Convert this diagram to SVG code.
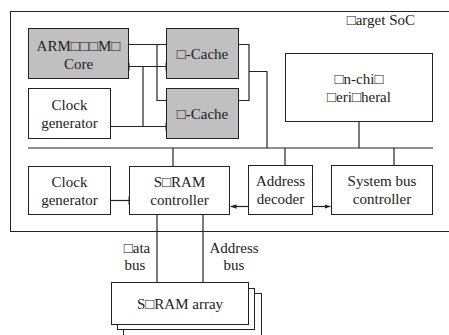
<svg xmlns="http://www.w3.org/2000/svg" width="449" height="335" viewBox="0 0 449 335">
  <style>
    .box { fill: #ffffff; stroke: #222222; stroke-width: 1; }
    .gray { fill: #c0c0c0; stroke: #222222; stroke-width: 1; }
    .wire { fill: none; stroke: #222222; stroke-width: 1.2; }
    .clk { fill: #ffffff; stroke: #222222; stroke-width: 1; }
    text { font-family: 'Liberation Serif', 'Times New Roman', Times, serif; font-size: 15px; fill: #222222; text-anchor: middle; }
  </style>
  <defs>
    <marker id="arrow" viewBox="0 0 6 6" refX="6" refY="3" markerWidth="6" markerHeight="6" markerUnits="userSpaceOnUse" orient="auto">
      <path d="M0,0.8 L6,3 L0,5.2 z" fill="#222222"/>
    </marker>
  </defs>

  <rect width="449" height="335" fill="#ffffff"/>

  <!-- SoC boundary (right edge runs past the canvas) -->
  <g id="soc">
    <rect x="10.5" y="11.5" width="445" height="220" fill="none" stroke="#222222" stroke-width="1"/>
    <text x="415" y="25" style="text-anchor:end">□arget SoC</text>
  </g>

  <!-- connectors -->
  <g id="connectors">
    <!-- core to caches -->
    <polyline class="wire" points="129,44.5 166,44.5"/>
    <polyline class="wire" points="157,44.5 157,100.5 166,100.5"/>
    <!-- clock to core and caches -->
    <polyline class="wire" points="111,126.5 166,126.5"/>
    <polyline class="wire" points="143,126.5 143,66.5"/>
    <polyline class="wire" points="129,66.5 166,66.5"/>
    <!-- caches to system bus -->
    <polyline class="wire" points="239,44.5 249,44.5 249,100.5 239,100.5"/>
    <polyline class="wire" points="249,71.5 267,71.5 267,148"/>
    <!-- system bus -->
    <line class="wire" x1="28" y1="148" x2="433" y2="148"/>
    <line class="wire" x1="359" y1="122" x2="359" y2="148"/>
    <line class="wire" x1="173" y1="148" x2="173" y2="166"/>
    <line class="wire" x1="285" y1="148" x2="285" y2="165"/>
    <line class="wire" x1="394" y1="148" x2="394" y2="165"/>
    <!-- lower row -->
    <line class="wire" x1="111" y1="200.5" x2="129" y2="200.5"/>
    <line class="wire" x1="248" y1="206.5" x2="230.5" y2="206.5" marker-end="url(#arrow)"/>
    <line class="wire" x1="313" y1="206.5" x2="330.5" y2="206.5" marker-end="url(#arrow)"/>
    <!-- memory buses -->
    <line class="wire" x1="157" y1="214" x2="157" y2="282"/>
    <line class="wire" x1="203" y1="214" x2="203" y2="282"/>
    <!-- clock inputs -->
    <polygon class="clk" points="129,62.5 120,66.5 129,70.5"/>
    <polygon class="clk" points="166,62.5 175.5,66.5 166,70.5"/>
    <polygon class="clk" points="166,122.5 175.5,126.5 166,130.5"/>
    <polygon class="clk" points="129,196.5 138.5,200.5 129,204.5"/>
  </g>

  <g id="arm-core">
    <rect class="gray" x="28.5" y="28.5" width="100" height="50"/>
    <text x="78.5" y="50.5">ARM□□□M□</text>
    <text x="78.5" y="68.5">Core</text>
  </g>

  <g id="i-cache">
    <rect class="gray" x="166.5" y="28.5" width="72" height="50"/>
    <text x="202.5" y="59">□-Cache</text>
  </g>

  <g id="d-cache">
    <rect class="gray" x="166.5" y="88.5" width="72" height="50"/>
    <text x="202.5" y="119">□-Cache</text>
  </g>

  <g id="clock-gen-1">
    <rect class="box" x="28.5" y="88.5" width="82" height="50"/>
    <text x="69.5" y="110">Clock</text>
    <text x="69.5" y="128">generator</text>
  </g>

  <g id="peripheral">
    <rect class="box" x="285.5" y="53.5" width="147" height="68"/>
    <text x="359" y="84">□n-chi□</text>
    <text x="359" y="102">□eri□heral</text>
  </g>

  <g id="clock-gen-2">
    <rect class="box" x="28.5" y="166.5" width="82" height="48"/>
    <text x="69.5" y="187">Clock</text>
    <text x="69.5" y="205">generator</text>
  </g>

  <g id="sdram-controller">
    <rect class="box" x="129.5" y="166.5" width="100" height="48"/>
    <text x="179.5" y="187">S□RAM</text>
    <text x="179.5" y="205">controller</text>
  </g>

  <g id="address-decoder">
    <rect class="box" x="248.5" y="165.5" width="64" height="49"/>
    <text x="280.5" y="186">Address</text>
    <text x="280.5" y="204">decoder</text>
  </g>

  <g id="system-bus-controller">
    <rect class="box" x="331.5" y="165.5" width="101" height="49"/>
    <text x="382" y="186">System bus</text>
    <text x="382" y="204">controller</text>
  </g>

  <g id="bus-labels">
    <text x="137" y="253">□ata</text>
    <text x="135" y="270">bus</text>
    <text x="234" y="253">Address</text>
    <text x="234" y="270">bus</text>
  </g>

  <g id="sdram-array">
    <rect class="box" x="123.5" y="293.5" width="138" height="50"/>
    <rect class="box" x="117.5" y="288.5" width="137" height="41"/>
    <rect class="box" x="111.5" y="282.5" width="137" height="42"/>
    <text x="180" y="309">S□RAM array</text>
  </g>
</svg>
